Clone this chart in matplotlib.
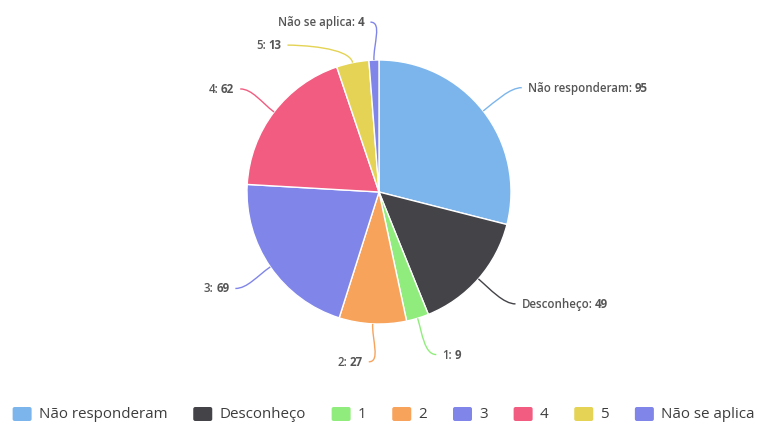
import numpy as np
import matplotlib
matplotlib.use("Agg")
import matplotlib.pyplot as plt
from matplotlib.patches import FancyBboxPatch, PathPatch
from matplotlib.path import Path

# Survey answers
categories = ["Não responderam", "Desconheço", "1", "2", "3", "4", "5", "Não se aplica"]
counts = [95, 49, 9, 27, 69, 62, 13, 4]
colors = ["#7cb5ec", "#434348", "#90ed7d", "#f7a35c", "#8085e9", "#f15c80", "#e4d354", "#8085e9"]

FONT = "Open Sans"
W, H = 757, 424
fig = plt.figure(figsize=(W / 100, H / 100), dpi=100)
ax = fig.add_axes([0, 0, 1, 1])

cx, cy, r = 379, H - 192, 132
wedges, _ = ax.pie(counts, colors=colors, startangle=90, counterclock=False,
                   center=(cx, cy), radius=r, frame=True,
                   wedgeprops=dict(edgecolor="white", linewidth=1))
ax.set_xlim(0, W)
ax.set_ylim(0, H)
ax.set_aspect("equal")
ax.axis("off")

renderer = fig.canvas.get_renderer()


def width_of(t):
    return t.get_window_extent(renderer).width


# Data labels with connectors
total = float(sum(counts))
cum = np.cumsum([0] + counts)
mid = [np.pi * (cum[i] + cum[i + 1]) / total for i in range(len(counts))]
Rx, Ry = 172, 170
gap = 23

items = []
for i, th in enumerate(mid):
    side = 1 if np.sin(th) > 0 else -1
    items.append(dict(i=i, th=th, side=side, y=Ry * np.cos(th), moved=False))

for side in (1, -1):
    grp = sorted([it for it in items if it["side"] == side], key=lambda d: -d["y"])
    for k in range(1, len(grp)):
        if grp[k]["y"] > grp[k - 1]["y"] - gap:
            grp[k]["y"] = grp[k - 1]["y"] - gap
            grp[k]["moved"] = True

label_color = "#555555"
fs = 8.3
for it in items:
    i, th, side, ly = it["i"], it["th"], it["side"], it["y"]
    if it["moved"]:
        lx = side * np.sqrt(max(Rx ** 2 - ly ** 2, 0.0))
    else:
        lx = Rx * np.sin(th)
    lx += 7 if side > 0 else -2
    ex, ey = r * np.sin(th), r * np.cos(th)
    p0 = (cx + ex, cy + ey)
    p1 = (cx + ex * 1.12, cy + ey * 1.12)
    p2 = (cx + lx - side * 12, cy + ly)
    p3 = (cx + lx, cy + ly)
    path = Path([p0, p1, p2, p3], [Path.MOVETO, Path.CURVE4, Path.CURVE4, Path.CURVE4])
    ax.add_patch(PathPatch(path, facecolor="none", edgecolor=colors[i], linewidth=1))

    tx = cx + lx + side * 6
    ty = cy + ly - 4
    name = categories[i] + ":"
    val = str(counts[i])
    if side > 0:
        t1 = ax.text(tx, ty, name, ha="left", va="baseline", fontsize=fs,
                     family=FONT, color=label_color, weight="semibold")
        ax.text(tx + width_of(t1) + 2.5, ty, val, ha="left", va="baseline",
                fontsize=fs, family=FONT, color=label_color, weight="bold")
    else:
        t2 = ax.text(tx, ty, val, ha="right", va="baseline", fontsize=fs,
                     family=FONT, color=label_color, weight="bold")
        ax.text(tx - width_of(t2) - 2.5, ty, name, ha="right", va="baseline",
                fontsize=fs, family=FONT, color=label_color, weight="semibold")

# Legend along the bottom
leg_y = H - 414
sym_w, sym_h = 19, 14
sym_gap = 7
item_gap = 26
leg_fs = 10.9
texts = []
for name in categories:
    t = ax.text(0, leg_y, name, fontsize=leg_fs, family=FONT, color="#3d3d3d",
                va="center", ha="left")
    texts.append(t)
widths = [width_of(t) for t in texts]
total_w = sum(sym_w + sym_gap + w for w in widths) + item_gap * (len(widths) - 1)
x = 383.5 - total_w / 2
for name, col, t, w in zip(categories, colors, texts, widths):
    ax.add_patch(FancyBboxPatch((x, leg_y - sym_h / 2), sym_w, sym_h,
                                boxstyle="round,pad=0,rounding_size=2",
                                facecolor=col, edgecolor="none"))
    t.set_position((x + sym_w + sym_gap, leg_y - 1))
    x += sym_w + sym_gap + w + item_gap

fig.savefig("out.png", dpi=100, facecolor="white")
